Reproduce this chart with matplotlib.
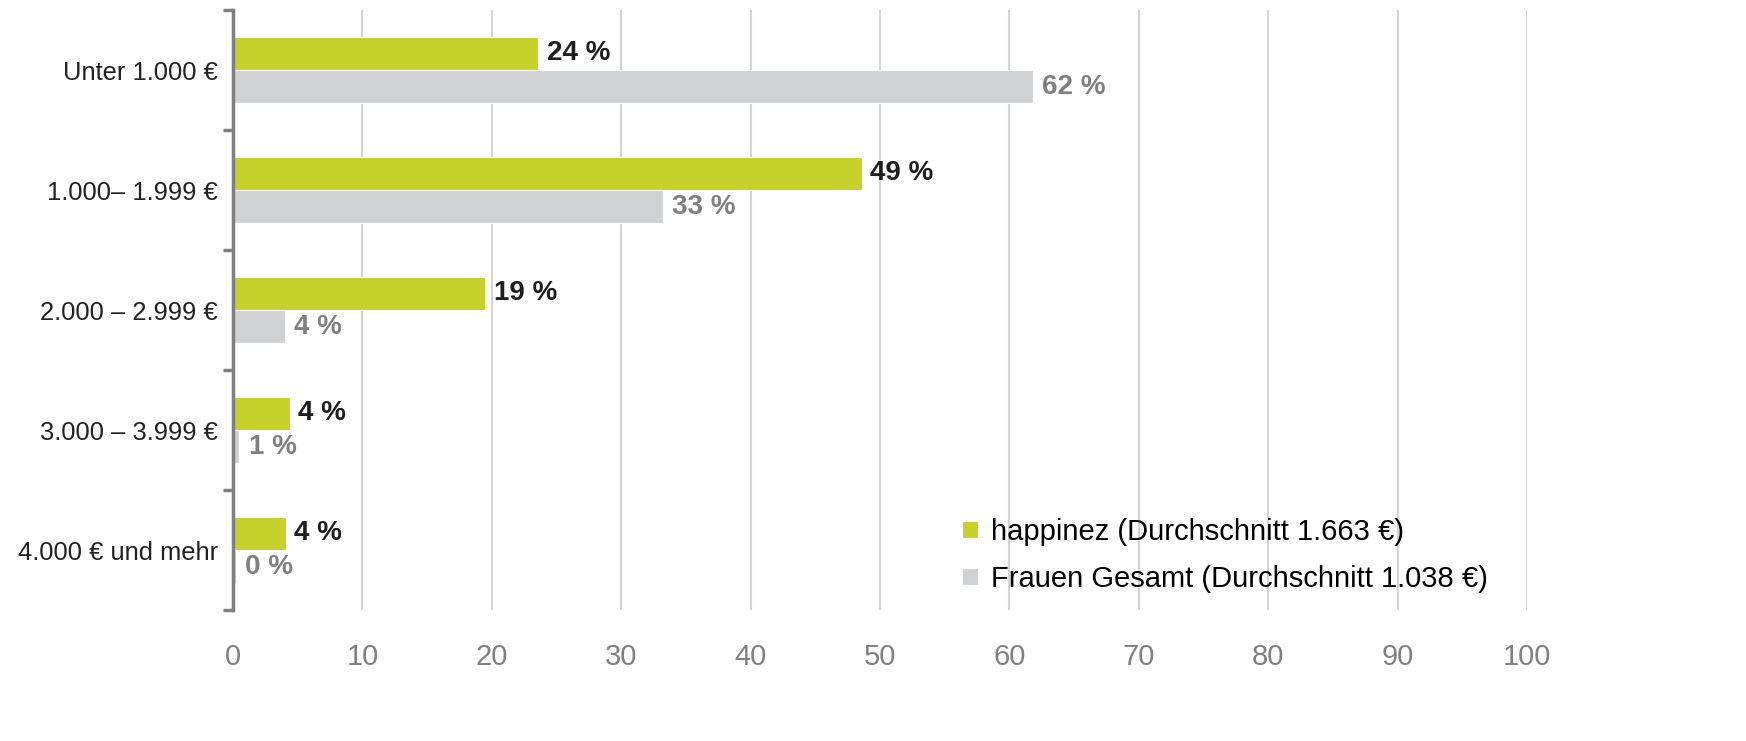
import numpy as np
import matplotlib
matplotlib.use("Agg")
import matplotlib.pyplot as plt

plt.rcParams["font.family"] = ["Liberation Sans", "DejaVu Sans"]

# data
categories = ["Unter 1.000 €", "1.000– 1.999 €", "2.000 – 2.999 €",
              "3.000 – 3.999 €", "4.000 € und mehr"]
happinez = [23.6, 48.6, 19.5, 4.4, 4.1]
happinez_labels = ["24 %", "49 %", "19 %", "4 %", "4 %"]
frauen = [61.8, 33.2, 4.0, 0.5, 0.2]
frauen_labels = ["62 %", "33 %", "4 %", "1 %", "0 %"]
series_names = ["happinez (Durchschnitt 1.663 €)",
                "Frauen Gesamt (Durchschnitt 1.038 €)"]
xticks = [0, 10, 20, 30, 40, 50, 60, 70, 80, 90, 100]

GREEN = "#c6d12b"
GREY = "#d1d2d4"

fig = plt.figure(figsize=(17.46, 7.41), dpi=100)
ax = fig.add_axes([233/1746, 1-610/741, (1527-233)/1746, 600/741])

y = np.arange(len(categories))
h = 0.275
ax.barh(y - h/2, happinez, height=h, color=GREEN, edgecolor="white",
        linewidth=0.8, label=series_names[0], zorder=3)
ax.barh(y + h/2, frauen, height=h, color=GREY, edgecolor="white",
        linewidth=0.8, label=series_names[1], zorder=3)

for i in range(len(categories)):
    ax.annotate(happinez_labels[i], (happinez[i], y[i] - h/2),
                xytext=(6, 0), textcoords="offset points", va="center",
                ha="left", fontsize=20, fontweight="bold", color="#1e1e1e")
    ax.annotate(frauen_labels[i], (frauen[i], y[i] + h/2),
                xytext=(7, 0), textcoords="offset points", va="center",
                ha="left", fontsize=20, fontweight="bold", color="#808080")

ax.set_xlim(0, 100)
ax.set_ylim(len(categories) - 0.5, -0.5)
ax.set_xticks(xticks)
ax.set_xticklabels([str(t) for t in xticks])
ax.tick_params(axis="x", length=0, labelsize=21, labelcolor="#808080", pad=24)
ax.set_yticks(y)
ax.set_yticklabels(categories)
ax.tick_params(axis="y", which="major", length=0, labelsize=18.4, pad=11,
               labelcolor="#222222")
ax.set_yticks(np.arange(-0.5, len(categories)), minor=True)
ax.tick_params(axis="y", which="minor", length=7, width=2.5, color="#808080",
               direction="out")

ax.grid(axis="x", color="#d4d4d4", linewidth=1.5, zorder=0)
ax.xaxis.get_gridlines()[0].set_visible(False)
for s in ["top", "right", "bottom"]:
    ax.spines[s].set_visible(False)
ax.spines["left"].set_color("#808080")
ax.spines["left"].set_linewidth(2.5)
ax.spines["left"].set_zorder(5)

leg = ax.legend(loc="lower right", bbox_to_anchor=(0.99, -0.015), frameon=False,
                fontsize=21, handlelength=0.55, handleheight=0.55,
                handletextpad=0.45, labelspacing=0.65)

plt.savefig("out.png", dpi=100)
